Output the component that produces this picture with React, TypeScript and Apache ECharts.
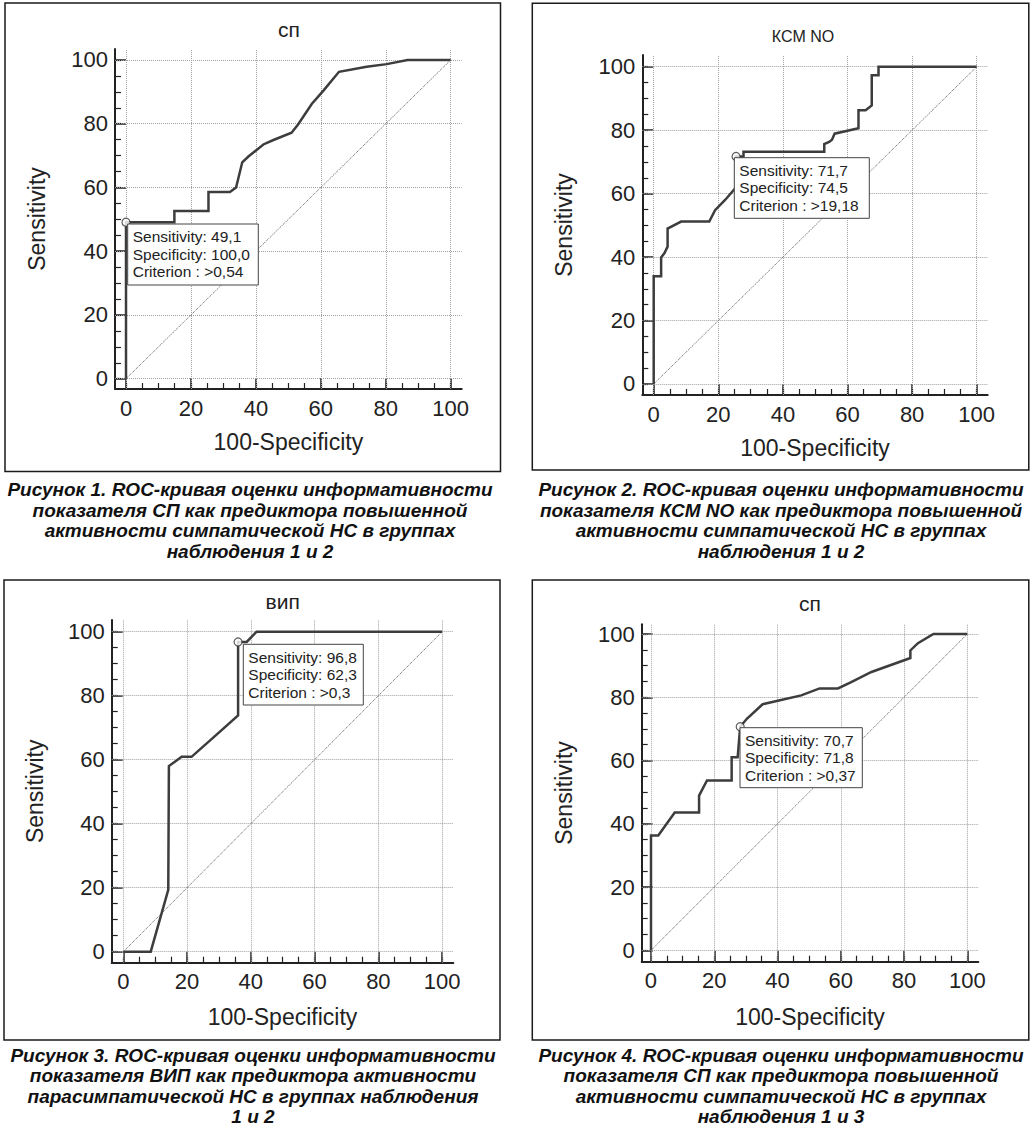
import React, { useEffect, useRef } from "react";
import * as echarts from "echarts";

const FONT = '"Liberation Sans", Arial, Helvetica, sans-serif';

// ---- tick values ----
const majorTicks = [0, 20, 40, 60, 80, 100];
const minorTicks = [0, 5, 10, 15, 20, 25, 30, 35, 40, 45, 50, 55, 60, 65, 70, 75, 80, 85, 90, 95, 100];
const diagonal = [0, 100];

// ---- texts ----
const titles = ["сп", "КСМ NO", "вип", "сп"];
const xName = "100-Specificity";
const yName = "Sensitivity";

// ---- ROC curves (100-Specificity, Sensitivity) ----
const fpr1 = [0, 0, 14.9, 14.9, 25.4, 25.4, 32.0, 33.9, 35.8, 37.7, 42.3, 45.4, 51.0, 53.1, 57.2, 60.8, 65.6, 74.1, 80.3, 86.7, 100];
const tpr1 = [0, 49.1, 49.1, 52.6, 52.6, 58.6, 58.6, 60.0, 67.9, 69.7, 73.5, 74.9, 77.2, 79.9, 86.2, 90.4, 96.3, 97.9, 98.7, 100, 100];

const fpr2 = [0, 0, 2.3, 2.3, 3.3, 4.3, 4.3, 8.5, 17.2, 19.0, 22.1, 25.5, 25.5, 27.8, 27.8, 52.8, 52.8, 54.3, 55.2, 56.0, 63.4, 63.4, 65.6, 67.5, 67.5, 69.6, 69.6, 100];
const tpr2 = [0, 34.0, 34.0, 39.9, 41.2, 43.3, 49.0, 51.2, 51.2, 54.8, 58.0, 62.0, 71.7, 71.7, 73.2, 73.2, 75.6, 76.3, 77.0, 78.9, 80.6, 86.3, 86.3, 87.8, 97.3, 97.3, 100, 100];

const fpr3 = [0, 8.6, 14.1, 14.3, 18.3, 21.4, 28.2, 36.0, 36.0, 38.7, 41.8, 100];
const tpr3 = [0, 0, 19.3, 58.0, 60.9, 60.9, 66.9, 73.8, 96.8, 96.8, 100, 100];

const fpr4 = [0, 0, 2.3, 7.5, 15.2, 15.2, 17.7, 25.5, 25.5, 27.4, 28.2, 30.3, 35.3, 40.1, 47.5, 53.3, 59.1, 63.3, 69.7, 82.0, 82.0, 84.4, 89.3, 100];
const tpr4 = [0, 36.3, 36.3, 43.6, 43.6, 48.9, 53.7, 53.7, 61.0, 61.0, 70.7, 73.2, 77.8, 78.9, 80.6, 82.8, 82.8, 84.8, 88.0, 92.4, 94.8, 97.1, 100, 100];

const fprs = [fpr1, fpr2, fpr3, fpr4];
const tprs = [tpr1, tpr2, tpr3, tpr4];

// ---- optimal criterion points ----
const cutX = [0, 25.5, 36.0, 28.2];
const cutY = [49.1, 71.7, 96.8, 70.7];
const sensLabels = ["49,1", "71,7", "96,8", "70,7"];
const specLabels = ["100,0", "74,5", "62,3", "71,8"];
const critLabels = [">0,54", ">19,18", ">0,3", ">0,37"];

// ---- captions ----
const captions = [
  "Рисунок 1. ROC-кривая оценки информативности\nпоказателя СП как предиктора повышенной\nактивности симпатической НС в группах\nнаблюдения 1 и 2",
  "Рисунок 2. ROC-кривая оценки информативности\nпоказателя КСМ NO как предиктора повышенной\nактивности симпатической НС в группах\nнаблюдения 1 и 2",
  "Рисунок 3. ROC-кривая оценки информативности\nпоказателя ВИП как предиктора активности\nпарасимпатической НС в группах наблюдения\n1 и 2",
  "Рисунок 4. ROC-кривая оценки информативности\nпоказателя СП как предиктора повышенной\nактивности симпатической НС в группах\nнаблюдения 1 и 3",
];

// ---- layout (pixels) ----
const layout = [
  { frame: [5, 3, 495.5, 468.5], grid: [115, 49, 346.7, 340], xr: [-3.39, 103.39], yr: [-3.23, 103.45], title: [289, 29, 21], box: [127.7, 224, 130.6, 61], cap: [250, 479.3], xGap: 41, yGap: 66.8 },
  { frame: [532.3, 3.3, 496.5, 466.7], grid: [642.3, 55, 345.4, 340], xr: [-3.53, 103.4], yr: [-3.47, 103.7], title: [803, 36.7, 16], box: [734.3, 157.7, 135, 60.6], cap: [781, 479.3], xGap: 41.8, yGap: 66.5 },
  { frame: [4, 580, 496, 460], grid: [111.7, 620, 341.6, 342.7], xr: [-3.64, 103.5], yr: [-3.44, 103.66], title: [282.7, 601, 21], box: [243.3, 644.3, 120, 60.7], cap: [253, 1045], xGap: 42.5, yGap: 65.2 },
  { frame: [532.3, 580, 496.5, 460], grid: [641.7, 624.3, 336.6, 337.4], xr: [-2.94, 103.48], yr: [-3.6, 103.07], title: [810, 603.3, 21], box: [740, 727.7, 122.3, 60], cap: [781, 1045], xGap: 43.5, yGap: 65.9 },
];

const INK = "#222";
const CURVE = "#3d3d3d";

function buildOption() {
  const grid: any[] = [];
  const xAxis: any[] = [];
  const yAxis: any[] = [];
  const series: any[] = [];
  const graphic: any[] = [];

  layout.forEach((p, i) => {
    grid.push({ left: p.grid[0], top: p.grid[1], width: p.grid[2], height: p.grid[3], containLabel: false });

    const baseAxis = (min: number, max: number) => ({
      gridIndex: i,
      type: "value",
      min,
      max,
      splitLine: { show: false },
      splitArea: { show: false },
    });

    // main x axis
    xAxis.push({
      ...baseAxis(p.xr[0], p.xr[1]),
      position: "bottom",
      axisLine: { show: true, onZero: false, lineStyle: { color: INK, width: 2 } },
      axisTick: { show: true, inside: true, length: 11, customValues: majorTicks, lineStyle: { color: INK, width: 1.5 } },
      axisLabel: { show: true, customValues: majorTicks, margin: 8, fontSize: 22, color: INK, fontFamily: FONT },
      name: xName,
      nameLocation: "middle",
      nameGap: p.xGap,
      nameTextStyle: { fontSize: 23, color: INK, fontFamily: FONT },
    });
    // minor x ticks
    xAxis.push({
      ...baseAxis(p.xr[0], p.xr[1]),
      position: "bottom",
      axisLine: { show: false, onZero: false },
      axisTick: { show: true, inside: true, length: 6, customValues: minorTicks, lineStyle: { color: INK, width: 1.2 } },
      axisLabel: { show: false },
    });
    // main y axis
    yAxis.push({
      ...baseAxis(p.yr[0], p.yr[1]),
      position: "left",
      axisLine: { show: true, onZero: false, lineStyle: { color: INK, width: 2 } },
      axisTick: { show: true, inside: true, length: 11, customValues: majorTicks, lineStyle: { color: INK, width: 1.5 } },
      axisLabel: { show: true, customValues: majorTicks, margin: 7, fontSize: 22, color: INK, fontFamily: FONT },
      name: yName,
      nameLocation: "middle",
      nameGap: p.yGap,
      nameRotate: 90,
      nameTextStyle: { fontSize: 23, color: INK, fontFamily: FONT },
    });
    // minor y ticks
    yAxis.push({
      ...baseAxis(p.yr[0], p.yr[1]),
      position: "left",
      axisLine: { show: false, onZero: false },
      axisTick: { show: true, inside: true, length: 6, customValues: minorTicks, lineStyle: { color: INK, width: 1.2 } },
      axisLabel: { show: false },
    });

    const xi = 2 * i;
    const yi = 2 * i;

    series.push({
      type: "line",
      xAxisIndex: xi,
      yAxisIndex: yi,
      data: diagonal.map((v) => [v, v]),
      symbol: "none",
      silent: true,
      z: 2,
      lineStyle: { color: "#555", width: 1, type: "dotted" },
      markLine: {
        silent: true,
        z: 1,
        symbol: ["none", "none"],
        label: { show: false },
        emphasis: { disabled: true },
        lineStyle: { color: "#a0a0a0", width: 1, type: "dotted" },
        data: [...majorTicks.map((v) => ({ xAxis: v })), ...majorTicks.map((v) => ({ yAxis: v }))],
      },
    });

    series.push({
      type: "line",
      xAxisIndex: xi,
      yAxisIndex: yi,
      data: fprs[i].map((x, k) => [x, tprs[i][k]]),
      symbol: "none",
      silent: true,
      z: 3,
      lineStyle: { color: CURVE, width: 2.5, join: "miter" },
    });

    series.push({
      type: "scatter",
      xAxisIndex: xi,
      yAxisIndex: yi,
      data: [[cutX[i], cutY[i]]],
      symbol: "circle",
      symbolSize: 8,
      silent: true,
      z: 5,
      itemStyle: { color: "#fff", borderColor: "#333", borderWidth: 1.2 },
    });

    // frame
    graphic.push({
      type: "rect",
      z: 20,
      silent: true,
      shape: { x: p.frame[0], y: p.frame[1], width: p.frame[2], height: p.frame[3] },
      style: { fill: "none", stroke: "#1a1a1a", lineWidth: 1.5 },
    });
    // title
    graphic.push({
      type: "text",
      z: 20,
      silent: true,
      x: p.title[0],
      y: p.title[1],
      style: {
        text: titles[i],
        fontSize: p.title[2],
        fontFamily: FONT,
        fill: INK,
        align: "center",
        verticalAlign: "middle",
        textAlign: "center",
        textVerticalAlign: "middle",
      },
    });
    // annotation box
    graphic.push({
      type: "rect",
      z: 30,
      silent: true,
      shape: { x: p.box[0], y: p.box[1], width: p.box[2], height: p.box[3] },
      style: { fill: "#fff", stroke: "#444", lineWidth: 1 },
    });
    graphic.push({
      type: "text",
      z: 31,
      silent: true,
      x: p.box[0] + 5,
      y: p.box[1] + 4,
      style: {
        text: `Sensitivity: ${sensLabels[i]}\nSpecificity: ${specLabels[i]}\nCriterion : ${critLabels[i]}`,
        fontSize: 15.5,
        lineHeight: 17.5,
        fontFamily: FONT,
        fill: INK,
        align: "left",
        verticalAlign: "top",
        textAlign: "left",
        textVerticalAlign: "top",
      },
    });
    // caption
    graphic.push({
      type: "text",
      z: 20,
      silent: true,
      x: p.cap[0],
      y: p.cap[1],
      style: {
        text: captions[i],
        fontSize: 19,
        fontWeight: "bold",
        fontStyle: "italic",
        lineHeight: 20.5,
        fontFamily: FONT,
        fill: "#111",
        align: "center",
        verticalAlign: "top",
        textAlign: "center",
        textVerticalAlign: "top",
      },
    });
  });

  return {
    animation: false,
    backgroundColor: "#ffffff",
    grid,
    xAxis,
    yAxis,
    series,
    graphic: { elements: graphic },
  };
}

export default function App() {
  const ref = useRef<HTMLDivElement>(null);
  useEffect(() => {
    if (!ref.current) return;
    const chart = echarts.init(ref.current, undefined, { renderer: "svg" });
    chart.setOption(buildOption() as any);
    return () => {
      chart.dispose();
    };
  }, []);
  return (
    <div
      ref={ref}
      style={{ position: "absolute", left: 0, top: 0, width: 1033, height: 1131, background: "#fff" }}
    />
  );
}
